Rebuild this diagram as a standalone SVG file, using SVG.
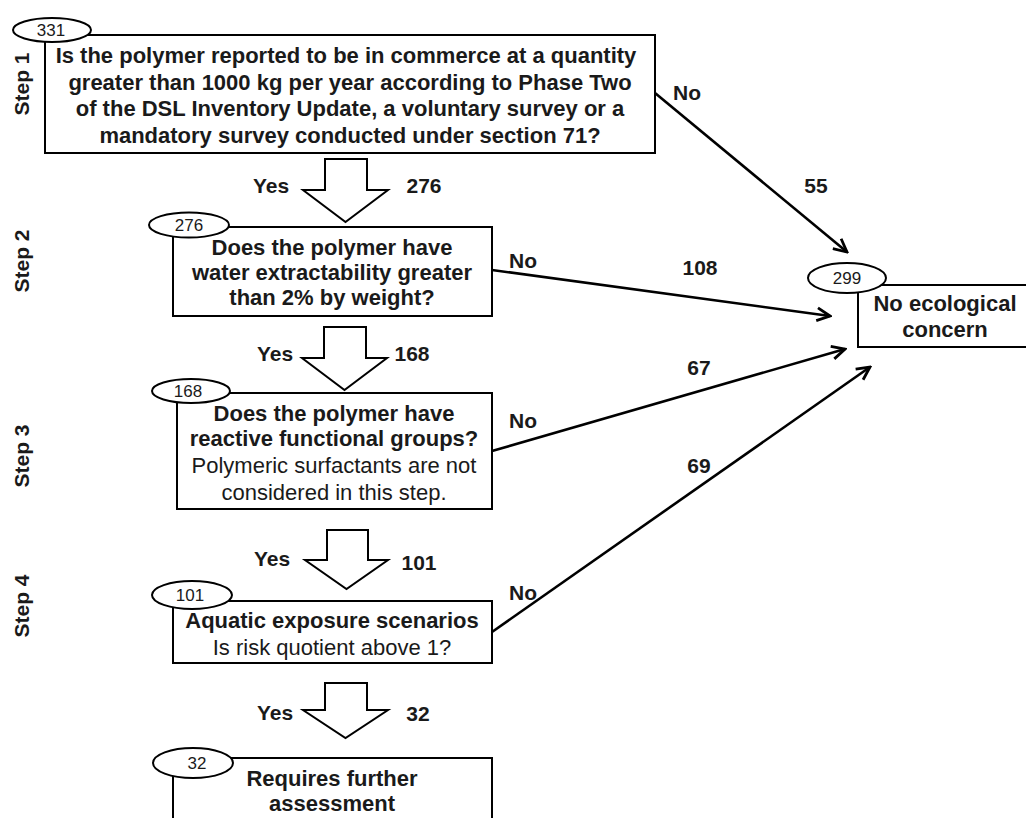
<svg xmlns="http://www.w3.org/2000/svg" width="1026" height="818" viewBox="0 0 1026 818">
<style>
.box{fill:#fff;stroke:#000;stroke-width:2}
.ell{fill:#fff;stroke:#000;stroke-width:2}
.num{font-family:"Liberation Sans",Arial,sans-serif;font-size:17px;text-anchor:middle;fill:#1a1a1a}
.b{font-family:"Liberation Sans",Arial,sans-serif;font-size:22px;font-weight:bold;text-anchor:middle;fill:#1a1a1a}
.r{font-family:"Liberation Sans",Arial,sans-serif;font-size:22px;text-anchor:middle;fill:#1a1a1a}
.lbl{font-family:"Liberation Sans",Arial,sans-serif;font-size:21px;font-weight:bold;text-anchor:middle;fill:#1a1a1a}
.step{font-family:"Liberation Sans",Arial,sans-serif;font-size:21px;font-weight:bold;text-anchor:middle;fill:#1a1a1a}
.blk{fill:#fff;stroke:#000;stroke-width:2;stroke-linejoin:miter}
.con{fill:none;stroke:#000;stroke-width:2.6}
</style>
<defs>
<marker id="ah" viewBox="0 0 16 16" refX="14" refY="8" markerWidth="16" markerHeight="16" markerUnits="userSpaceOnUse" orient="auto">
<path d="M1,1.5 L14,8 L1,14.5" fill="none" stroke="#000" stroke-width="2.8"/>
</marker>
</defs>

<g id="steps">
<text class="step" transform="translate(29,84) rotate(-90)">Step 1</text>
<text class="step" transform="translate(29,261) rotate(-90)">Step 2</text>
<text class="step" transform="translate(29,456) rotate(-90)">Step 3</text>
<text class="step" transform="translate(29,606) rotate(-90)">Step 4</text>
</g>

<g id="connectors">
<line class="con" x1="655" y1="93" x2="847" y2="252" marker-end="url(#ah)"/>
<line class="con" x1="492" y1="270" x2="830" y2="316" marker-end="url(#ah)"/>
<line class="con" x1="492" y1="451" x2="845" y2="349" marker-end="url(#ah)"/>
<line class="con" x1="492" y1="632" x2="870" y2="367" marker-end="url(#ah)"/>
<text class="lbl" x="687" y="100">No</text>
<text class="lbl" x="816" y="193">55</text>
<text class="lbl" x="523" y="268">No</text>
<text class="lbl" x="700" y="275">108</text>
<text class="lbl" x="523" y="428">No</text>
<text class="lbl" x="699" y="375">67</text>
<text class="lbl" x="523" y="600">No</text>
<text class="lbl" x="699" y="473">69</text>
<path class="blk" d="M325,159 H367 V190 H388 L345.5,222 L303,190 H325 Z"/>
<text class="lbl" x="271" y="193">Yes</text>
<text class="lbl" x="424" y="193">276</text>
<path class="blk" d="M324,327 H366 V358 H387 L344.5,390 L302,358 H324 Z"/>
<text class="lbl" x="275" y="361">Yes</text>
<text class="lbl" x="412" y="361">168</text>
<path class="blk" d="M327,530 H368 V560 H388 L346.5,589 L305,560 H327 Z"/>
<text class="lbl" x="272" y="566">Yes</text>
<text class="lbl" x="419" y="570">101</text>
<path class="blk" d="M325,683 H367 V710 H388 L345.5,738 L303,710 H325 Z"/>
<text class="lbl" x="275" y="720">Yes</text>
<text class="lbl" x="418" y="721">32</text>
</g>

<g id="step1">
<rect class="box" x="45" y="35" width="610" height="118"/>
<ellipse class="ell" cx="52" cy="30" rx="39" ry="12"/>
<text class="num" x="51" y="36">331</text>
<text class="b" x="346" y="63">Is the polymer reported to be in commerce at a quantity</text>
<text class="b" x="350" y="90">greater than 1000 kg per year according to Phase Two</text>
<text class="b" x="350" y="116">of the DSL Inventory Update, a voluntary survey or a</text>
<text class="b" x="350" y="143">mandatory survey conducted under section 71?</text>
</g>

<g id="step2">
<rect class="box" x="173" y="227" width="319" height="89"/>
<ellipse class="ell" cx="189" cy="225" rx="40" ry="12.5"/>
<text class="num" x="189" y="231">276</text>
<text class="b" x="332" y="255">Does the polymer have</text>
<text class="b" x="332" y="280">water extractability greater</text>
<text class="b" x="332" y="305">than 2% by weight?</text>
</g>

<g id="step3">
<rect class="box" x="177" y="393" width="315" height="116"/>
<ellipse class="ell" cx="191" cy="391" rx="39" ry="12"/>
<text class="num" x="188" y="397">168</text>
<text class="b" x="334" y="421">Does the polymer have</text>
<text class="b" x="334" y="446">reactive functional groups?</text>
<text class="r" x="334" y="473">Polymeric surfactants are not</text>
<text class="r" x="334" y="500">considered in this step.</text>
</g>

<g id="step4">
<rect class="box" x="173" y="601" width="319" height="62"/>
<ellipse class="ell" cx="192" cy="595" rx="40" ry="14"/>
<text class="num" x="190" y="601">101</text>
<text class="b" x="332" y="628">Aquatic exposure scenarios</text>
<text class="r" x="332" y="655">Is risk quotient above 1?</text>
</g>

<g id="further">
<rect class="box" x="173" y="758" width="319" height="80"/>
<ellipse class="ell" cx="193" cy="763" rx="40" ry="15"/>
<text class="num" x="197" y="769">32</text>
<text class="b" x="332" y="786">Requires further</text>
<text class="b" x="332" y="811">assessment</text>
</g>

<g id="noconcern">
<rect class="box" x="858" y="285" width="180" height="62"/>
<ellipse class="ell" cx="847" cy="278" rx="39" ry="15"/>
<text class="num" x="847" y="284">299</text>
<text class="b" x="945" y="311">No ecological</text>
<text class="b" x="945" y="337">concern</text>
</g>
</svg>
